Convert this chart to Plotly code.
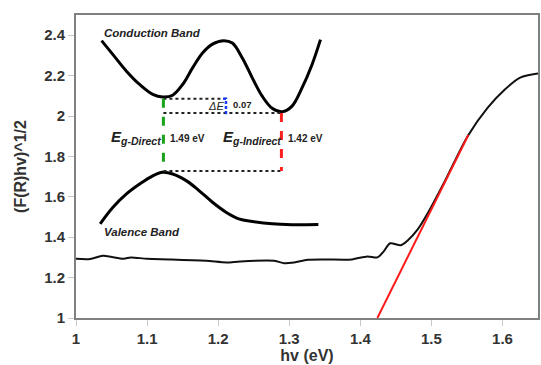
import plotly.graph_objects as go

# Measured spectrum (Tauc plot)
hv = [1.000, 1.020, 1.038, 1.067, 1.077, 1.100, 1.134, 1.183, 1.212, 1.231,
      1.279, 1.293, 1.307, 1.326, 1.350, 1.388, 1.410, 1.424, 1.433, 1.442,
      1.457, 1.467, 1.481, 1.495, 1.520, 1.551, 1.579, 1.603, 1.625, 1.650]
fr = [1.293, 1.292, 1.308, 1.293, 1.300, 1.293, 1.290, 1.283, 1.275, 1.280,
      1.283, 1.271, 1.275, 1.288, 1.290, 1.290, 1.305, 1.300, 1.330, 1.370,
      1.360, 1.385, 1.440, 1.520, 1.685, 1.900, 2.040, 2.130, 2.190, 2.210]

# Linear fit (tangent) line
fit_x = [1.424, 1.552]
fit_y = [1.000, 1.906]

# Inset schematic: conduction band
cb_x = [1.036, 1.052, 1.071, 1.0895, 1.108, 1.122, 1.136, 1.150, 1.164, 1.178,
        1.192, 1.208, 1.220, 1.234, 1.248, 1.262, 1.276, 1.290, 1.304, 1.318,
        1.332, 1.344]
cb_y = [2.373, 2.304, 2.222, 2.156, 2.107, 2.094, 2.103, 2.156, 2.238, 2.312,
        2.356, 2.373, 2.361, 2.287, 2.189, 2.098, 2.038, 2.021, 2.049, 2.139,
        2.254, 2.378]
# Inset schematic: valence band
vb_x = [1.034, 1.052, 1.071, 1.0895, 1.108, 1.122, 1.136, 1.155, 1.173, 1.192,
        1.211, 1.229, 1.248, 1.276, 1.304, 1.341]
vb_y = [1.466, 1.548, 1.614, 1.663, 1.704, 1.721, 1.713, 1.680, 1.631, 1.573,
        1.524, 1.491, 1.478, 1.466, 1.462, 1.463]

# Inset levels
x_direct = 1.123
x_indirect = 1.289
x_delta = 1.211
y_cb_direct = 2.085
y_cb_indirect = 2.015
y_vb_top = 1.728

xticks = [1, 1.1, 1.2, 1.3, 1.4, 1.5, 1.6]
yticks = [1, 1.2, 1.4, 1.6, 1.8, 2, 2.2, 2.4]

fig = go.Figure()

fig.add_trace(go.Scatter(x=hv, y=fr, mode="lines", line=dict(color="#111", width=2, shape="spline", smoothing=0.8),
                         hoverinfo="skip", showlegend=False))
fig.add_trace(go.Scatter(x=fit_x, y=fit_y, mode="lines", line=dict(color="#ff1a1a", width=2),
                         showlegend=False))

# inset bands
fig.add_trace(go.Scatter(x=cb_x, y=cb_y, mode="lines", line=dict(color="#000", width=3, shape="spline", smoothing=1.0),
                         showlegend=False))
fig.add_trace(go.Scatter(x=vb_x, y=vb_y, mode="lines", line=dict(color="#000", width=3, shape="spline", smoothing=1.0),
                         showlegend=False))

# dotted levels
fig.add_trace(go.Scatter(x=[x_direct, x_delta], y=[y_cb_direct, y_cb_direct], mode="lines",
                         line=dict(color="#222", width=2, dash="dot"), showlegend=False))
fig.add_trace(go.Scatter(x=[x_direct, x_indirect], y=[y_cb_indirect, y_cb_indirect], mode="lines",
                         line=dict(color="#222", width=2, dash="dot"), showlegend=False))
fig.add_trace(go.Scatter(x=[x_direct, x_indirect], y=[y_vb_top, y_vb_top], mode="lines",
                         line=dict(color="#222", width=2, dash="dot"), showlegend=False))
# dashed gaps
fig.add_trace(go.Scatter(x=[x_direct, x_direct], y=[y_cb_direct, y_vb_top], mode="lines",
                         line=dict(color="#1aa31a", width=3, dash="dash"), showlegend=False))
fig.add_trace(go.Scatter(x=[x_indirect, x_indirect], y=[y_cb_indirect, y_vb_top], mode="lines",
                         line=dict(color="#ff2020", width=3, dash="dash"), showlegend=False))
fig.add_trace(go.Scatter(x=[x_delta - 0.004, x_delta, x_delta, x_delta - 0.004],
                         y=[y_cb_direct, y_cb_direct, y_cb_indirect, y_cb_indirect], mode="lines",
                         line=dict(color="#1a3cff", width=2.5, dash="3px,2px"), showlegend=False))

F = "Liberation Sans"
def ann(x, y, text, size, color="#222", xanchor="left"):
    fig.add_annotation(x=x, y=y, text=text, showarrow=False, xanchor=xanchor, yanchor="middle",
                       font=dict(family=F, size=size, color=color))

ann(1.037, 2.409, "<b><i>Conduction Band</i></b>", 11.5)
ann(1.037, 1.424, "<b><i>Valence Band</i></b>", 11.5)
ann(1.046, 1.892, "<b><i>E</i></b><sub><b><i>g-Direct</i></b></sub>", 15)
ann(1.130, 1.890, "<b>1.49 eV</b>", 10)
ann(1.204, 1.892, "<b><i>E</i></b><sub><b><i>g-Indirect</i></b></sub>", 15)
ann(1.296, 1.890, "<b>1.42 eV</b>", 10)
ann(1.183, 2.049, "<i>ΔE</i>", 11)
ann(1.218, 2.058, "<b>0.07</b>", 9.5)

axis_common = dict(showgrid=False, zeroline=False, showline=True, linecolor="#808080", linewidth=2,
                   mirror=True, ticks="outside", ticklen=6, tickcolor="#c8c8c8", tickwidth=1,
                   tickfont=dict(family=F, size=15, color="#333", weight="bold"))

fig.update_xaxes(range=[1, 1.65], tickvals=xticks, ticktext=[str(t) for t in xticks],
                 title=dict(text="<b>hv (eV)</b>", font=dict(family=F, size=16, color="#333"), standoff=2),
                 **axis_common)
fig.update_yaxes(range=[1, 2.5], tickvals=yticks, ticktext=[str(t) for t in yticks],
                 title=dict(text="<b>(F(R)hv)^1/2</b>", font=dict(family=F, size=16, color="#333"), standoff=14),
                 **axis_common)

fig.update_layout(width=541, height=365, margin=dict(l=76, r=1, t=15, b=47),
                  plot_bgcolor="white", paper_bgcolor="white")

fig.write_html("out.html")
